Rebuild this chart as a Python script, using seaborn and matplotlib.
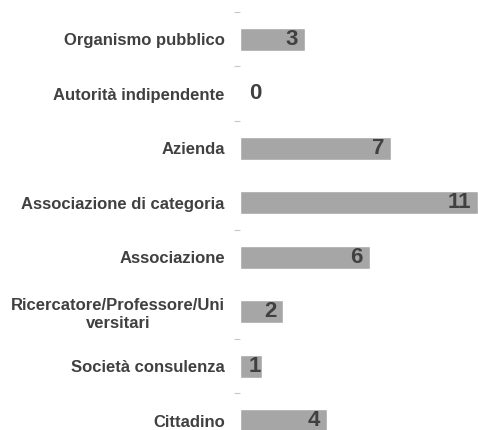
import matplotlib
matplotlib.use("Agg")
import matplotlib.pyplot as plt
import seaborn as sns
import pandas as pd
from matplotlib.ticker import FixedLocator

categories = [
    "Organismo pubblico",
    "Autorità indipendente",
    "Azienda",
    "Associazione di categoria",
    "Associazione",
    "Ricercatore/Professore/Uni\nversitari",
    "Società consulenza",
    "Cittadino",
]
counts = [3, 0, 7, 11, 6, 2, 1, 4]
# separators drawn between groups
separator_positions = [-0.5, 0.5, 1.5, 3.5, 5.5, 6.5]

df = pd.DataFrame({"categoria": categories, "n": counts})

sns.set_theme(style="white")
plt.rcParams["font.family"] = ["Liberation Sans", "DejaVu Sans"]

fig = plt.figure(figsize=(4.78, 4.30), dpi=100)
ax = fig.add_axes([240 / 478, 0.0, 238 / 478, 418 / 430])

sns.barplot(data=df, y="categoria", x="n", orient="h", color="#a6a6a6",
            saturation=1, width=0.42, ax=ax)

ax.set_xlim(0, 11)
ax.set_ylim(7.17, -0.5)
ax.set_xlabel("")
ax.set_ylabel("")
ax.set_xticks([])
for s in ax.spines.values():
    s.set_visible(False)

ax.tick_params(axis="y", which="major", length=0, pad=11,
               labelsize=12, labelcolor="#404040")
for lab in ax.get_yticklabels():
    lab.set_fontweight("bold")
    lab.set_multialignment("center")

ax.yaxis.set_minor_locator(FixedLocator(separator_positions))
ax.tick_params(axis="y", which="minor", length=4, width=0.8,
               color="#c8c8c8", left=True)

# value labels sit inside the bar end; short bars keep a minimum anchor
for i, v in enumerate(counts):
    ax.annotate(str(v), xy=(max(v, 1.3), i), xytext=(-5, 0),
                textcoords="offset points", ha="right", va="center",
                fontsize=16, fontweight="bold", color="#404040")

fig.savefig("out.png", dpi=100, facecolor="white")
